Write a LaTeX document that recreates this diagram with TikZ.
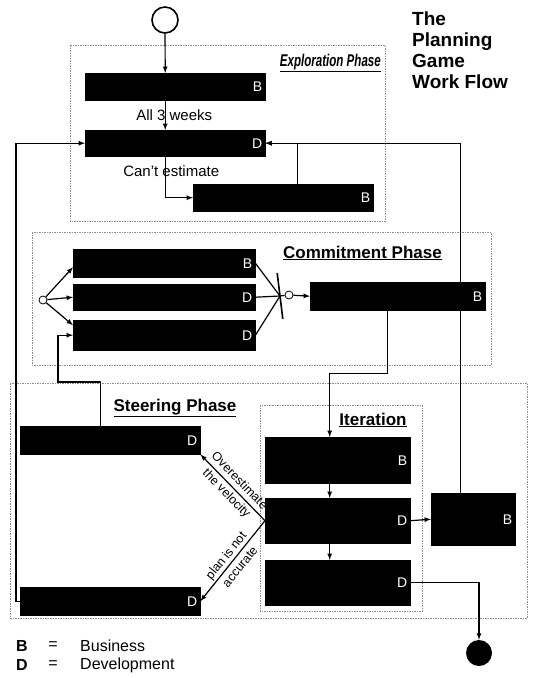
\documentclass[tikz,border=0pt]{standalone}
\usepackage{fontspec}
\setmainfont{Liberation Sans}
\usetikzlibrary{arrows}
\tikzset{
  task_box/.style = {rectangle, draw=black, fill=black, inner sep=0pt,
    anchor=north west, label={[role_tag]east:#1}},% boite noire, lettre B ou D
  role_tag/.style = {anchor=east, text=white, inner sep=3pt,
    font=\fontsize{14}{14}\selectfont},% lettre du role
  phase_frame/.style = {draw=black!45, dash pattern=on 1.5pt off 1pt,
    line width=0.7pt},% cadre de phase
  phase_title/.style = {font=\fontsize{17}{17}\selectfont\bfseries,
    inner sep=0pt},% titre de phase
  flow/.style = {-latex, line width=1.2pt},
  flow_line/.style = {line width=1.2pt},
  flow_label/.style = {font=\fontsize{15}{15}\selectfont, inner sep=1pt},
  diag_label/.style = {font=\fontsize{12.5}{18}\selectfont, align=center,
    sloped, inner sep=0pt},
  legend_text/.style = {font=\fontsize{16}{16}\selectfont, inner sep=0pt},
  start_node/.style = {circle, draw=black, line width=1.6pt,
    minimum size=26, inner sep=0pt},% debut
  end_node/.style = {circle, fill=black, minimum size=26, inner sep=0pt},% fin
  small_circle/.style = {circle, draw=black, fill=white, line width=0.8pt,
    minimum size=8, inner sep=0pt},
  join_bar/.style = {rectangle, fill=black, minimum width=1.6,
    minimum height=46, inner sep=0pt, rotate=7}
}
\begin{document}
\begin{tikzpicture}[x=1pt, y=-1pt]
  \useasboundingbox (0,0) rectangle (535,678);
  % cadres des phases
  \draw[phase_frame] (70,45) rectangle (385,221);
  \draw[phase_frame] (32,232) rectangle (491,365);
  \draw[phase_frame] (10,383) rectangle (527,618);
  \draw[phase_frame] (260,405) rectangle (422,611);

  \node[phase_title, anchor=east] (explo_title) at (381,63)
    {\scalebox{0.68}[1]{\itshape\underline{Exploration Phase}}};
  \node[phase_title, anchor=east] (commit_title) at (442,253)
    {\underline{Commitment Phase}};
  \node[phase_title] (steer_title) at (175,408) {\underline{Steering Phase}};
  \node[phase_title] (iter_title) at (373,420) {\underline{Iteration}};

  \node[anchor=north west, align=left, inner sep=0pt,
    font=\fontsize{19}{21}\selectfont\bfseries] (main_title) at (412,12)
    {The\\Planning\\Game\\Work Flow};

  % exploration
  \node[start_node] (start) at (165,20) {};
  \node[task_box=B, minimum width=180, minimum height=27] (e1) at (85,73) {};
  \node[task_box=D, minimum width=180, minimum height=26] (e2) at (85,130) {};
  \node[task_box=B, minimum width=180, minimum height=27] (e3) at (193,184) {};

  % commitment
  \node[small_circle] (fork) at (43,300) {};
  \node[task_box=B, minimum width=182, minimum height=28] (c1) at (73,249) {};
  \node[task_box=D, minimum width=182, minimum height=26] (c2) at (73,284) {};
  \node[task_box=D, minimum width=182, minimum height=30] (c3) at (73,320) {};
  \node[join_bar] (join) at (280,296) {};
  \node[small_circle] (merge) at (289,295) {};
  \node[task_box=B, minimum width=175, minimum height=28] (c4) at (310,282) {};

  % steering
  \node[task_box=D, minimum width=180, minimum height=28] (s1) at (20,426) {};
  \node[task_box=D, minimum width=180, minimum height=28] (s2) at (20,587) {};
  \node[task_box=B, minimum width=145, minimum height=46] (i1) at (265,437) {};
  \node[task_box=D, minimum width=145, minimum height=45] (i2) at (265,498) {};
  \node[task_box=D, minimum width=145, minimum height=45] (i3) at (265,560) {};
  \node[task_box=B, minimum width=84, minimum height=52] (rel) at (431,493) {};
  \node[end_node] (stop) at (479,653) {};

  \coordinate (s1_bend) at (58,382);

  % connecteurs
  \draw[flow] (start) -- ([xshift=-10]e1.north);
  \draw[flow] ([xshift=-10]e1.south) --
    node[flow_label, xshift=9] {All 3 weeks} ([xshift=-10]e2.north);
  \draw[flow] ([xshift=-10]e2.south) |-
    node[flow_label, pos=.18, xshift=6] {Can't estimate} (e3.west);
  \draw[flow] ([xshift=14]e3.north) |- (e2.east);
  \draw[flow] ([xshift=-13]rel.north) |- (e2.east);
  \draw[flow] (s2.west) -- ++(-4,0) |- (e2.west);

  \draw[flow] (fork) -- ([yshift=-4]c1.west);
  \draw[flow] (fork) -- (c2.west);
  \draw[flow] (fork) -- ([yshift=10]c3.west);
  \draw[flow_line] (c1.east) -- (join.center);
  \draw[flow_line] (c2.east) -- (join.center);
  \draw[flow_line] (c3.east) -- (join.center);
  \draw[flow_line] (join.center) -- (merge);
  \draw[flow] (merge) -- (c4.west);
  \draw[flow] ([xshift=-10]c4.south) -- ++(0,63) -| ([xshift=-8]i1.north);

  \draw[flow] ([xshift=-10]s1.north) |- (s1_bend) |- (c3.west);
  \draw[flow] ([xshift=-8]i1.south) -- ([xshift=-8]i2.north);
  \draw[flow] ([xshift=-8]i2.south) -- ([xshift=-8]i3.north);
  \draw[flow] (i2.east) -- (rel.west);
  \draw[flow] (i3.east) -| (stop.north);

  \draw[flow] (i2.west) -- node[diag_label] {Overestimate\\the velocity} (s1.south east);
  \draw[flow] (i2.west) -- node[diag_label] {plan is not\\accurate} (s2.east);

  % legende
  \node[legend_text, font=\fontsize{16}{16}\selectfont\bfseries] (key_b) at (22,646) {B};
  \node[legend_text] (eq_b) at (53,646) {=};
  \node[legend_text, anchor=west] (txt_b) at (80,646) {Business};
  \node[legend_text, font=\fontsize{16}{16}\selectfont\bfseries] (key_d) at (22,665) {D};
  \node[legend_text] (eq_d) at (53,665) {=};
  \node[legend_text, anchor=west] (txt_d) at (80,665) {Development};
\end{tikzpicture}
\end{document}
